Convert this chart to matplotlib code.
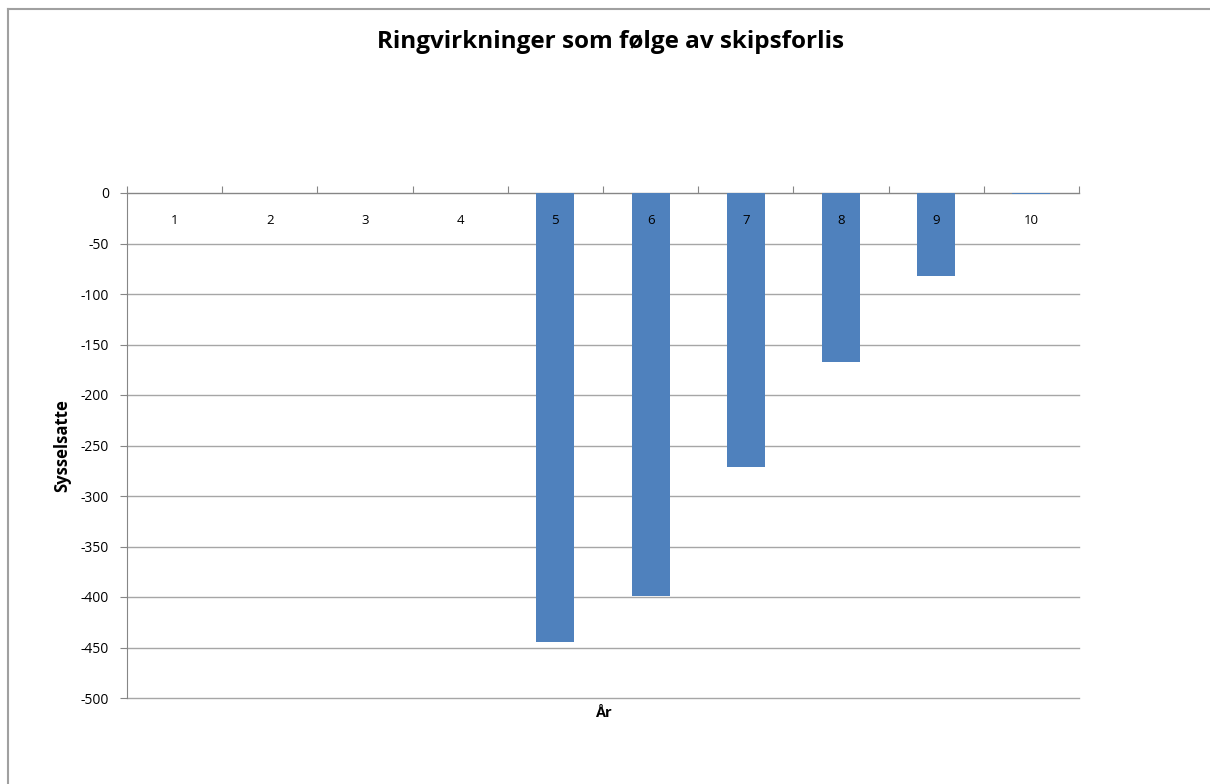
import matplotlib
matplotlib.use("Agg")
import matplotlib.pyplot as plt
from matplotlib.lines import Line2D

years = ["1", "2", "3", "4", "5", "6", "7", "8", "9", "10"]
values = [0, 0, 0, 0, -445, -399, -271, -167, -82, -1]
yticks = [0, -50, -100, -150, -200, -250, -300, -350, -400, -450, -500]

plt.rcParams['font.family'] = ['Open Sans', 'DejaVu Sans']

fig = plt.figure(figsize=(12.1, 7.84), dpi=100)
ax = fig.add_axes([127/1210, 1-698/784, (1079-127)/1210, (698-193)/784])

x = list(range(len(years)))
ax.bar(x, values, width=0.4, color="#4F81BD", zorder=3)

ax.set_xlim(-0.5, len(years) - 0.5)
ax.set_ylim(-500, 0)
ax.set_yticks(yticks)
ax.set_yticklabels([str(v) for v in yticks], fontsize=10)
ax.yaxis.grid(True, color="#a6a6a6", linewidth=1, zorder=0)
for gl in ax.get_ygridlines():
    gl.set_clip_on(False)
ax.tick_params(axis='y', length=5, color="#868686", direction='out', pad=8)

for s in ["right", "bottom"]:
    ax.spines[s].set_visible(False)
ax.spines["left"].set_color("#868686")
ax.spines["top"].set_color("#868686")

# category axis at top (y=0)
ax.xaxis.set_ticks_position('top')
ax.set_xticks([i - 0.5 for i in range(len(years) + 1)])
ax.set_xticklabels([])
ax.tick_params(axis='x', length=5, color="#868686", direction='out')
for i, lab in enumerate(years):
    ax.text(i, -27, lab, ha='center', va='center', fontsize=9.5, zorder=4)

ax.set_ylabel("Sysselsatte", fontsize=12, fontweight='bold', labelpad=7)
fig.text((127+1079)/2/1210, 1-713/784, "År", ha='center', va='center', fontsize=10.5, fontweight='bold')
fig.text((375+846)/2/1210, 1-42/784, "Ringvirkninger som følge av skipsforlis", ha='center', va='center',
         fontsize=17.5, fontweight='bold')

# outer chart frame
fig.add_artist(Line2D([8/1210, 1], [1-9/784, 1-9/784], color="#a0a0a0", linewidth=1.5, transform=fig.transFigure))
fig.add_artist(Line2D([8/1210, 8/1210], [0, 1-9/784], color="#a0a0a0", linewidth=1.5, transform=fig.transFigure))

fig.savefig("out.png", dpi=100)
